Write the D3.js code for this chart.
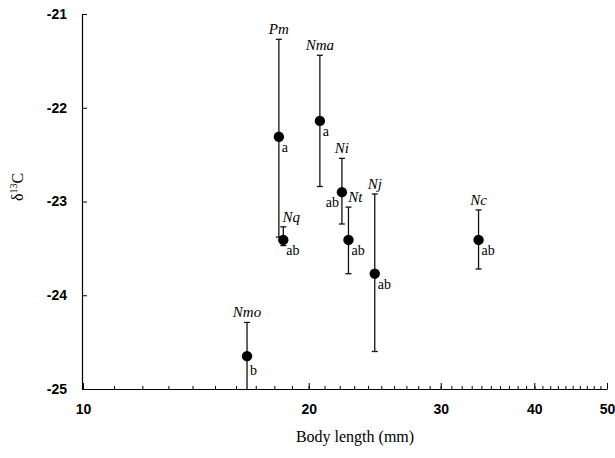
<!DOCTYPE html>
<html>
<head>
<meta charset="utf-8">
<script src="https://cdn.jsdelivr.net/npm/d3@7"></script>
<style>
  body { margin: 0; background: #fff; }
  svg { display: block; }
</style>
</head>
<body>
<div id="chart"></div>
<script>
// species, body length (mm), mean d13C and error bar ends
var species = ["Pm", "Nma", "Ni", "Nt", "Nj", "Nc", "Nq", "Nmo"];
var bodyLength = [18.25, 20.7, 22.15, 22.6, 24.5, 33.7, 18.5, 16.55];
var meanC = [-22.31, -22.14, -22.90, -23.41, -23.77, -23.41, -23.41, -24.65];
var highC = [-21.27, -21.44, -22.54, -23.06, -22.92, -23.09, -23.27, -24.29];
var lowC = [-23.38, -22.84, -23.24, -23.77, -24.60, -23.72, -23.47, -25.3];
var groups = ["a", "a", "ab", "ab", "ab", "ab", "ab", "b"];

var xMajor = [10, 20, 30, 40, 50];
var xMinor = d3.range(10, 51);
var yTicks = [-25, -24, -23, -22, -21];

var width = 615, height = 458;
var svg = d3.select("#chart").append("svg")
    .attr("width", width)
    .attr("height", height);

var xScale = d3.scaleLog().domain([10, 50]).range([83, 607]);
var yScale = d3.scaleLinear().domain([-25, -21]).range([389, 14]).clamp(true);

var tickFont = "'Liberation Sans', Arial, sans-serif";
var serif = "'Liberation Serif', 'Times New Roman', serif";

// minor ticks on the x axis (every mm)
svg.append("g")
    .attr("transform", "translate(0," + yScale(-25) + ")")
    .call(d3.axisBottom(xScale).tickValues(xMinor).tickSize(-3).tickSizeOuter(0).tickFormat(""))
    .call(g => g.selectAll("line").attr("stroke", "#000"))
    .call(g => g.select(".domain").attr("stroke", "#000").attr("stroke-width", 1.2));

// major ticks with labels
svg.append("g")
    .attr("transform", "translate(0," + yScale(-25) + ")")
    .call(d3.axisBottom(xScale).tickValues(xMajor).tickSize(-6).tickSizeOuter(0).tickPadding(15).tickFormat(d => String(d)))
    .call(g => g.select(".domain").remove())
    .call(g => g.selectAll("line").attr("stroke", "#000"))
    .call(g => g.selectAll("text")
        .attr("font-family", tickFont)
        .attr("font-weight", "bold")
        .attr("font-size", 14)
        .attr("fill", "#000"));

// y axis (plain hyphen as in the original)
svg.append("g")
    .attr("transform", "translate(82,0)")
    .call(d3.axisLeft(yScale).tickValues(yTicks).tickSize(-5).tickSizeOuter(0).tickPadding(15).tickFormat(d => String(d)))
    .call(g => g.select(".domain").attr("stroke", "#000").attr("stroke-width", 1.2))
    .call(g => g.selectAll("line").attr("stroke", "#000"))
    .call(g => g.selectAll("text")
        .attr("font-family", tickFont)
        .attr("font-weight", "bold")
        .attr("font-size", 14)
        .attr("fill", "#000"));

// axis titles
svg.append("text")
    .attr("x", 355)
    .attr("y", 442)
    .attr("text-anchor", "middle")
    .attr("font-family", serif)
    .attr("font-size", 16)
    .text("Body length (mm)");

var yTitle = svg.append("text")
    .attr("transform", "translate(23,187) rotate(-90)")
    .attr("text-anchor", "middle")
    .attr("font-family", serif)
    .attr("font-size", 16);
yTitle.append("tspan").text("δ");
yTitle.append("tspan").attr("font-size", 10).attr("dy", -6).text("13");
yTitle.append("tspan").attr("dy", 6).text("C");

// error bars and points
var rows = species.map((s, i) => ({
    name: s, len: bodyLength[i], mean: meanC[i], hi: highC[i], lo: lowC[i], grp: groups[i]
}));

var capW = 3;
var marks = svg.append("g").attr("stroke", "#111").attr("stroke-width", 1.3);

marks.selectAll("line.bar")
    .data(rows)
    .join("line")
    .attr("class", "bar")
    .attr("x1", d => xScale(d.len))
    .attr("x2", d => xScale(d.len))
    .attr("y1", d => yScale(d.hi))
    .attr("y2", d => yScale(d.lo));

marks.selectAll("line.capTop")
    .data(rows)
    .join("line")
    .attr("class", "capTop")
    .attr("x1", d => xScale(d.len) - capW)
    .attr("x2", d => xScale(d.len) + capW)
    .attr("y1", d => yScale(d.hi))
    .attr("y2", d => yScale(d.hi));

marks.selectAll("line.capBot")
    .data(rows.filter(d => d.lo > -25))
    .join("line")
    .attr("class", "capBot")
    .attr("x1", d => xScale(d.len) - capW)
    .attr("x2", d => xScale(d.len) + capW)
    .attr("y1", d => yScale(d.lo))
    .attr("y2", d => yScale(d.lo));

svg.selectAll("circle.pt")
    .data(rows)
    .join("circle")
    .attr("class", "pt")
    .attr("cx", d => xScale(d.len))
    .attr("cy", d => yScale(d.mean))
    .attr("r", 5.2)
    .attr("fill", "#000");

// species names above the bars
var nameNudge = { Nq: 8, Nt: 7 };
svg.selectAll("text.sp")
    .data(rows)
    .join("text")
    .attr("class", "sp")
    .attr("x", d => xScale(d.len) + (nameNudge[d.name] || 0))
    .attr("y", d => yScale(d.hi) - 5)
    .attr("text-anchor", "middle")
    .attr("font-family", serif)
    .attr("font-style", "italic")
    .attr("font-size", 15)
    .text(d => d.name);

// significance letters next to the points (Ni sits on the left side)
svg.selectAll("text.grp")
    .data(rows)
    .join("text")
    .attr("class", "grp")
    .attr("x", d => d.name === "Ni" ? xScale(d.len) - 3 : xScale(d.len) + 3)
    .attr("y", d => yScale(d.mean) + (d.name === "Nmo" ? 19 : 15))
    .attr("text-anchor", d => d.name === "Ni" ? "end" : "start")
    .attr("font-family", serif)
    .attr("font-size", 14)
    .text(d => d.grp);
</script>
</body>
</html>
